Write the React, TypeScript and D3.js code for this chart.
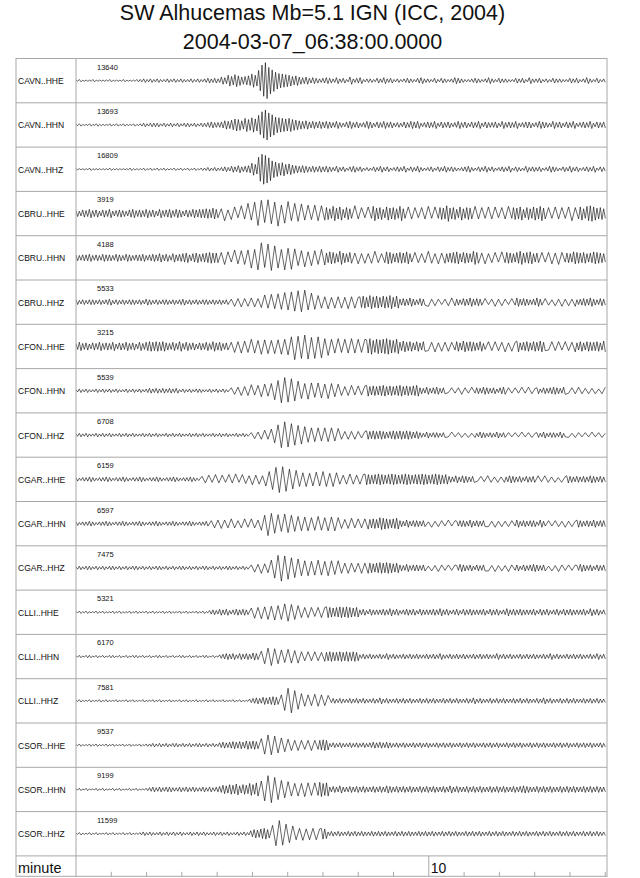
import React from 'react';
import * as d3 from 'd3';

// Station channels, top to bottom
const stations = [
  'CAVN..HHE', 'CAVN..HHN', 'CAVN..HHZ',
  'CBRU..HHE', 'CBRU..HHN', 'CBRU..HHZ',
  'CFON..HHE', 'CFON..HHN', 'CFON..HHZ',
  'CGAR..HHE', 'CGAR..HHN', 'CGAR..HHZ',
  'CLLI..HHE', 'CLLI..HHN', 'CLLI..HHZ',
  'CSOR..HHE', 'CSOR..HHN', 'CSOR..HHZ',
];

// Peak counts printed above every trace
const counts = [13640, 13693, 16809, 3919, 4188, 5533, 3215, 5539, 6708, 6159, 6597, 7475, 5321, 6170, 7581, 9537, 9199, 11599];

// Decimated traces, one base-36 char per column = size of the swing in that column.
// A '|' toggles between fast wiggle columns (max then min) and slow half cycles.
const traces = [
  '1211121111211121112' + '2323232232323223232' + '34343' + '6597a867' + '8b9' + 'hqumi' + 'ecba978' + '656454345' +
    '4353426345233243534232343245332424323543223432353243322434253342324332243423532423',
  '1211212111212121121' + '2323332323232332323' + '34544' + '5768a97b' + '9ca' + 'gmpkh' + 'dcbab98' + '767565656' +
    '5464356453465354645343546563454635453464535463544536454634553465436453546345463545',
  '1111211111211111211' + '1212121211212121212' + '23232' + '34354645' + '6a8' + 'kpnje' + 'cab8976' + '565454545' +
    '4353424534232435342343524353234243534323453243534234352432534342354324353423435243',
  '5465756465745654675' + '6575647567576465767' + '78797' + '|8c6ab7d9' + 'hbj' + 'kmfnh' + 'jlegkch' + 'dgbeaecdb|' +
    'a8c9b7a8|d9a7b8|c9a7b9a8c8|b9a7a9c8b8|a9d9a7b8a9|c9a8b9b7a9c8|a9b7a8b9c9|a8b9a8bca9|b8cdb9a8',
  '5455645465546546545' + '5645657564756785786' + '78988' + '|9ba7dacb' + 'dhe' + 'kpgnl' + 'khekgjf' + 'dcfadcbec|' +
    '8a97b879|8a7979b878|a97898a7|9878b97a89|789a7987b9|8a7897a8|9879b89a78|979a8b97|87a98978a987',
  '4343443434534343443435434344343453434344343434' + '|576867786' + '9cadbecgdhfjgkdfcb' + 'a9b8a9a8b9a8|9a8b9a8a9b8a' +
    '56575465|756545676|54657565|6457565465|75654575|6546575657|456575465',
  '575646575657465756475' + '787878' + '6575857564657586756' + '|7a8b9acbadbcacbdce' + 'gmhkjlfkgjdf' + 'cbdacbdbcac|bdacbcdbac' +
    '79786868|779687876|869787685|878779687|967868797|687868779|686877869',
  '232322323232322323232' + '3434343434' + '232323322323232' + '|566878a79ab9' + 'cfhkmjkhg' + 'dcedbdcbdcab' + '87897878|9787897878978789' +
    '54645645|354565464|546545356|545464654|535456546|455654545356',
  '2323223232322323232232323223232322323232232323223232' + '|465787' + 'adhlmkjhgfec' + 'cbcacbcab' + '76767656|7676765676767656' +
    '43534434|353443434|354343534|434353443|435344353|434434353443',
  '3233432334323343233432334323343233432' + '|5675867586958769786' + 'bdhkmlkhgf' + 'cbcabcbdcacb' + '87898788|9878987898789878898789878' +
    '54646545|354654545|465453545|646545354|654545465454',
  '3233432334323343233432334323343233432334' + '|576867875786876' + 'bekhgfdgfedc' + 'cbcabcbacbca' + '878978789|787a98789' +
    '54645545|364554645|455464545|546454554|645455364|545546454|654546455',
  '2323323232332323233232323323232332323233232323323232' + '|576978' + 'dhlmkjhgf' + 'dcdbcdcbdcbc' + '989878989|878989878' +
    '54645545|354654545|465453545|546454654|535456545|354654545|465453545',
  '1212112121121211212112121121211212112121' + '343545345454' + '|7a8b9cadbcefdcb' + '98987898|9878989878' +
    '45354445464534545354445464534535454445354534645454445354534535454445364534',
  '1212212121221212122121212212121221212122121' + '345453545465' + '|9cefdcbacbab' + '87878778|7877878787' +
    '34343343534334343433434353343434334343433534343343434334353433434343343534',
  '1211211212112112121121121211211212112112121121121211' + '345465676' + '|aglkhe' + 'c9a8b9a89|' +
    '34343343434334353433434343343434334343433435343343434334343433435343343434334343433',
  '1211212112121121211212' + '232323233232323323232' + '454565657676' + '|bfhgfdcba' + '989878987|898' +
    '34343343434345454543434334343433434343343434334343433434343343434334343433434343343',
  '1212112121121211212112' + '343434433434343343434' + '576879687a8b' + '|ejnmkhfed' + 'babacbaba|cab' +
    '45464454545445454654545454454545445464544545454454545445456544545454454545445454544',
  '1211212112121121211' + '232322323232322323232232323223232' + '576897' + '|ekmjgfd' + 'a9b8a9a8|98' +
    '34343343434334343433434343343434334343433434343343434334343433434343343434334343433',
];

// Time axis, minutes after 06:38:00
const duration = 15.05;
const minorTicks = [1, 2, 3, 4, 5, 6, 7, 8, 9, 11, 12, 13, 14, 15];
const majorTicks = [10];

const title1 = 'SW Alhucemas Mb=5.1 IGN (ICC, 2004)';
const title2 = '2004-03-07_06:38:00.0000';

const W = 640;
const H = 878;
const left = 16;
const labelW = 60;
const right = 607;
const top = 58.5;
const rowsBottom = 855.9;
const bottom = 876.3;
const font = '"Liberation Sans", Arial, Helvetica, sans-serif';
const gridColor = '#a8a8a8';

function tracePoints(s: string): [number, number][] {
  const n = s.replace(/\|/g, '').length;
  const pts: [number, number][] = [];
  let slow = false;
  let sign = 1;
  let col = 0;
  for (const c of s) {
    if (c === '|') { slow = !slow; continue; }
    const v = parseInt(c, 36);
    if (slow) {
      pts.push([((col + 0.5) / n) * duration, sign * v]);
      sign = -sign;
    } else {
      pts.push([(col / n) * duration, v]);
      pts.push([((col + 0.5) / n) * duration, -v]);
    }
    col++;
  }
  return pts;
}

export default function App() {
  const x = d3.scaleLinear().domain([0, duration]).range([left + labelW, right]);
  const y = d3.scaleBand().domain(stations).range([top, rowsBottom]);
  const amp = d3.scaleLinear().domain([0, 35]).range([0, 21]);

  const paths = traces.map((s, k) => {
    const mid = (y(stations[k]) ?? 0) + y.bandwidth() / 2;
    const line = d3.line<[number, number]>()
      .x(d => x(d[0]))
      .y(d => mid - amp(d[1]));
    return line(tracePoints(s)) ?? '';
  });

  return (
    <svg width={W} height={H} style={{ position: 'absolute', left: 0, top: 0, background: '#fff' }} fontFamily={font}>
      <defs>
        <clipPath id="plot">
          <rect x={x(0)} y={top} width={right - x(0)} height={rowsBottom - top} />
        </clipPath>
      </defs>

      <text x={(left + right) / 2 + 1} y={19.5} textAnchor="middle" fontSize={21.5} fill="#111">{title1}</text>
      <text x={(left + right) / 2 + 1} y={48.5} textAnchor="middle" fontSize={21.5} fill="#111">{title2}</text>

      {/* row separators */}
      {stations.map((s, k) => k > 0 && (
        <line key={'sep' + s} x1={left} x2={right} y1={y(s)} y2={y(s)} stroke={gridColor} strokeWidth={1} />
      ))}
      <line x1={left} x2={right} y1={rowsBottom} y2={rowsBottom} stroke={gridColor} strokeWidth={1} />

      {/* traces */}
      <g clipPath="url(#plot)">
        {paths.map((d, k) => (
          <path key={'tr' + k} d={d} fill="none" stroke="#000" strokeWidth={0.6} strokeLinejoin="round" />
        ))}
      </g>

      {/* labels */}
      {stations.map((s, k) => (
        <g key={'lab' + s}>
          <text x={left + 2} y={(y(s) ?? 0) + y.bandwidth() / 2 + 3.5} fontSize={8.5} fill="#111">{s}</text>
          <text x={x(0) + 21} y={(y(s) ?? 0) + 11} fontSize={7.5} fill="#111">{counts[k]}</text>
        </g>
      ))}

      {/* time axis */}
      <text x={left + 2} y={873} fontSize={14.5} fill="#111">minute</text>
      {minorTicks.map(t => (
        <line key={'mt' + t} x1={x(t)} x2={x(t)} y1={bottom - 4.5} y2={bottom} stroke={gridColor} strokeWidth={1} />
      ))}
      {majorTicks.map(t => (
        <g key={'MT' + t}>
          <line x1={x(t)} x2={x(t)} y1={rowsBottom} y2={bottom} stroke={gridColor} strokeWidth={1} />
          <text x={x(t) + 2} y={873} fontSize={14} fill="#111">{t}</text>
        </g>
      ))}

      {/* frame */}
      <rect x={left} y={top} width={right - left} height={bottom - top} fill="none" stroke={gridColor} strokeWidth={1} />
      <line x1={x(0)} x2={x(0)} y1={top} y2={bottom} stroke={gridColor} strokeWidth={1} />
    </svg>
  );
}
